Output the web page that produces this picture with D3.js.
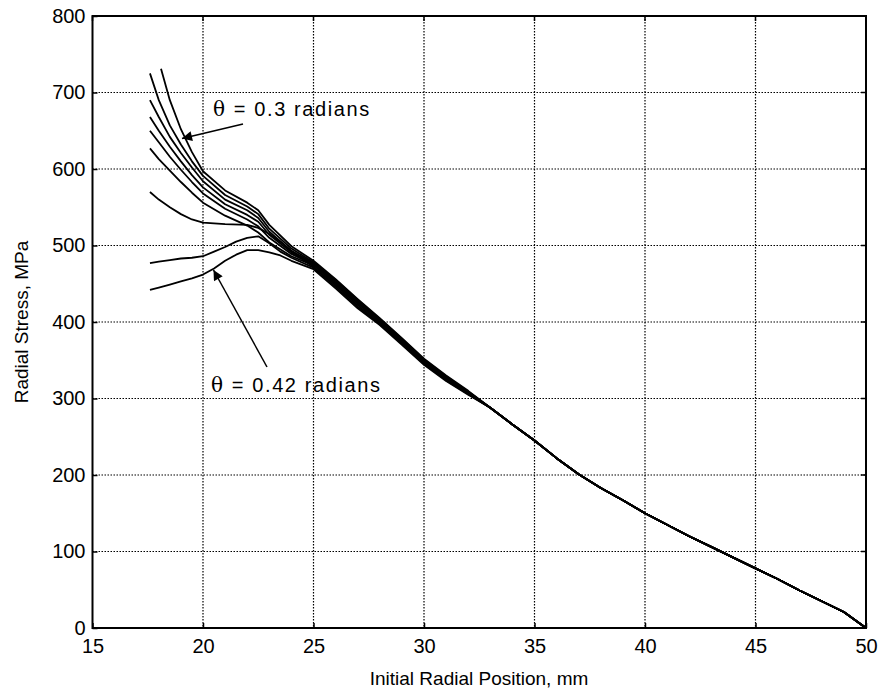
<!DOCTYPE html>
<html>
<head>
<meta charset="utf-8">
<script src="https://cdn.jsdelivr.net/npm/d3@7/dist/d3.min.js"></script>
<style>
  body { margin: 0; background: #fff; }
  svg text { font-family: "Liberation Sans", Arial, sans-serif; }
</style>
</head>
<body>
<svg id="chart" width="884" height="694"></svg>
<script>
// axis ticks
var xTicks = [15, 20, 25, 30, 35, 40, 45, 50];
var yTicks = [0, 100, 200, 300, 400, 500, 600, 700, 800];

// each curve: [initial radial position (mm), radial stress (MPa)] until the bundle merges
var curveA = [[18.1,731],[18.5,690],[19,652],[19.5,622],[20,597],[21,572],[22,556],[22.5,546],[23,527],[24,499],[25,480],[26,456],[27,430],[28,405],[29,379],[30,352],[31,330],[32,310]];
var curveB = [[17.6,725],[18,690],[18.5,657],[19,632],[19.5,610],[20,591],[21,566],[22,551],[22.5,541],[23,522],[24,496],[25,478],[26,455],[27,429],[28,404],[29,378],[30,351],[31,329],[32,309]];
var curveC = [[17.6,690],[18,668],[18.5,642],[19,621],[19.5,602],[20,584],[21,560],[22,546],[22.5,536],[23,518],[24,493],[25,477],[26,454],[27,428],[28,403],[29,377],[30,350],[31,328],[32,309]];
var curveD = [[17.6,668],[18,650],[18.5,629],[19,610],[19.5,592],[20,576],[21,554],[22,540],[22.5,531],[23,514],[24,491],[25,476],[26,452],[27,426],[28,402],[29,376],[30,349],[31,327],[32,308]];
var curveE = [[17.6,650],[18,635],[18.5,616],[19,599],[19.5,583],[20,568],[21,548],[22,534],[22.5,525],[23,510],[24,489],[25,475],[26,451],[27,425],[28,401],[29,375],[30,348],[31,327],[32,308]];
var curveF = [[17.6,627],[18,613],[18.5,598],[19,583],[19.5,569],[20,556],[21,539],[22,526],[22.5,517],[23,504],[24,486],[25,474],[26,450],[27,424],[28,400],[29,374],[30,347],[31,326],[32,307]];
var curveG = [[17.6,570],[18,560],[18.5,550],[19,541],[19.5,534],[20,530],[21,528],[22,527],[22.5,523],[23,515],[23.5,505],[24,493],[25,472],[26,448],[27,422],[28,398],[29,373],[30,346],[31,325],[32,306]];
var curveH = [[17.6,477],[18,479],[18.5,481],[19,483],[19.5,484],[20,486],[20.5,492],[21,498],[21.5,505],[22,510],[22.5,512],[23,503],[23.5,492],[24,484],[25,471],[26,446],[27,420],[28,397],[29,372],[30,345],[31,324],[32,306]];
var curveI = [[17.6,442],[18,445],[18.5,449],[19,453],[19.5,457],[20,462],[20.5,470],[21,480],[21.5,488],[22,494],[22.5,494],[23,491],[23.5,487],[24,480],[25,469],[26,444],[27,418],[28,396],[29,370],[30,344],[31,323],[32,305]];
var curves = [curveA, curveB, curveC, curveD, curveE, curveF, curveG, curveH, curveI];

// common tail after the curves merge
var tail = [[33,288],[34,266],[35,245],[36,222],[37,201],[38,183],[39,167],[40,150],[41,135],[42,120],[43,106],[44,92],[45,78],[46,64],[47,49],[48,35],[49,21],[50,0]];

var svg = d3.select("#chart");
var mLeft = 92.5, mRight = 866, mTop = 16, mBottom = 628;

var x = d3.scaleLinear().domain([15, 50]).range([mLeft, mRight]);
var y = d3.scaleLinear().domain([0, 800]).range([mBottom, mTop]);

// dotted grid
svg.append("g").selectAll("line").data(xTicks.slice(1, -1)).enter().append("line")
  .attr("x1", function(d) { return x(d); }).attr("x2", function(d) { return x(d); })
  .attr("y1", mTop).attr("y2", mBottom)
  .attr("stroke", "#000").attr("stroke-width", 1.2).attr("stroke-dasharray", "1.5,1.5");
svg.append("g").selectAll("line").data(yTicks.slice(1, -1)).enter().append("line")
  .attr("y1", function(d) { return y(d); }).attr("y2", function(d) { return y(d); })
  .attr("x1", mLeft).attr("x2", mRight)
  .attr("stroke", "#000").attr("stroke-width", 1.2).attr("stroke-dasharray", "1.5,1.5");

// axes, ticks pointing inward
var xAxis = svg.append("g").attr("transform", "translate(0," + mBottom + ")")
  .call(d3.axisBottom(x).tickValues(xTicks).tickSizeInner(-5).tickSizeOuter(0).tickPadding(11));
var yAxis = svg.append("g").attr("transform", "translate(" + mLeft + ",0)")
  .call(d3.axisLeft(y).tickValues(yTicks).tickSizeInner(-5).tickSizeOuter(0).tickPadding(7));
[xAxis, yAxis].forEach(function(a) {
  a.select(".domain").remove();
  a.selectAll("text").style("font-size", "20px").attr("fill", "#000")
    .style("font-family", "'Liberation Sans', Arial, sans-serif");
  a.selectAll(".tick line").attr("stroke", "#000").attr("stroke-width", 1.5);
});

// top/right ticks
svg.append("g").selectAll("line").data(xTicks).enter().append("line")
  .attr("x1", function(d) { return x(d); }).attr("x2", function(d) { return x(d); })
  .attr("y1", mTop).attr("y2", mTop + 5).attr("stroke", "#000").attr("stroke-width", 1.5);
svg.append("g").selectAll("line").data(yTicks).enter().append("line")
  .attr("y1", function(d) { return y(d); }).attr("y2", function(d) { return y(d); })
  .attr("x1", mRight).attr("x2", mRight - 5).attr("stroke", "#000").attr("stroke-width", 1.5);

// box
svg.append("rect").attr("x", mLeft).attr("y", mTop)
  .attr("width", mRight - mLeft).attr("height", mBottom - mTop)
  .attr("fill", "none").attr("stroke", "#000").attr("stroke-width", 2);

// curves
var line = d3.line().x(function(d) { return x(d[0]); }).y(function(d) { return y(d[1]); });
svg.append("g").selectAll("path").data(curves).enter().append("path")
  .attr("d", function(d) { return line(d.concat(tail)); })
  .attr("fill", "none").attr("stroke", "#000").attr("stroke-width", 1.8)
  .attr("stroke-linejoin", "round");

// arrows
svg.append("defs").append("marker")
  .attr("id", "head").attr("viewBox", "0 0 10 10").attr("refX", 10).attr("refY", 5)
  .attr("markerWidth", 16).attr("markerHeight", 10).attr("markerUnits", "userSpaceOnUse")
  .attr("orient", "auto")
  .append("path").attr("d", "M0,0 L10,5 L0,10 Z").attr("fill", "#000");

svg.append("line").attr("x1", 243).attr("y1", 124).attr("x2", 182).attr("y2", 138.5)
  .attr("stroke", "#000").attr("stroke-width", 1.5).attr("marker-end", "url(#head)");
svg.append("line").attr("x1", 267).attr("y1", 367).attr("x2", 213.5).attr("y2", 270)
  .attr("stroke", "#000").attr("stroke-width", 1.5).attr("marker-end", "url(#head)");

function label(tx, ty, rest) {
  var t = svg.append("text").attr("x", tx).attr("y", ty).style("font-size", "20px")
    .style("letter-spacing", "1.6px").attr("fill", "#000");
  t.append("tspan").style("font-family", "'DejaVu Serif', 'Liberation Serif', serif").text("\u03B8");
  t.append("tspan").text(rest);
}
label(213, 116, " = 0.3 radians");
label(211, 392, " = 0.42 radians");

// axis titles
svg.append("text").attr("x", 479).attr("y", 685).attr("text-anchor", "middle")
  .style("font-size", "19px").text("Initial Radial Position, mm");
svg.append("text").attr("transform", "translate(28," + ((mTop + mBottom) / 2) + ") rotate(-90)")
  .attr("text-anchor", "middle").style("font-size", "19px").text("Radial Stress, MPa");
</script>
</body>
</html>
